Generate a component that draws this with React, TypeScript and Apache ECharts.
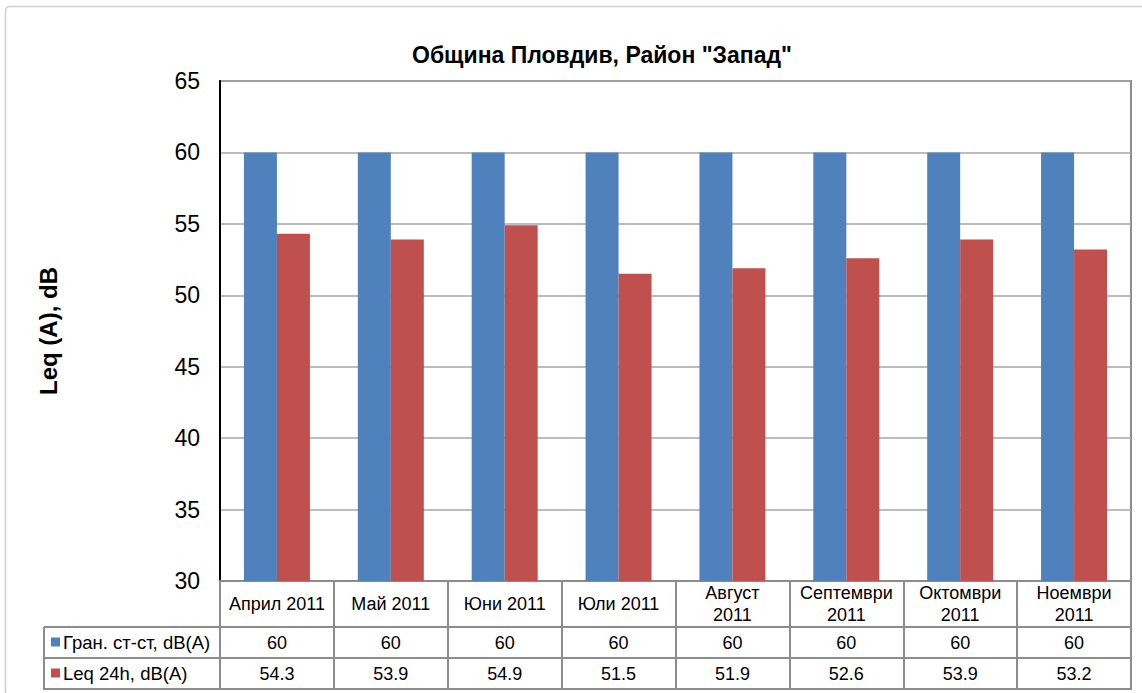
import React, { useEffect, useRef } from "react";
import * as echarts from "echarts";

const categories = ["Април 2011", "Май 2011", "Юни 2011", "Юли 2011", "Август 2011", "Септември 2011", "Октомври 2011", "Ноември 2011"];
const headerLabels = ["Април 2011", "Май 2011", "Юни 2011", "Юли 2011", "Август\n2011", "Септември\n2011", "Октомври\n2011", "Ноември\n2011"];
const limitValues = [60, 60, 60, 60, 60, 60, 60, 60];
const leqValues = [54.3, 53.9, 54.9, 51.5, 51.9, 52.6, 53.9, 53.2];
const seriesNames = ["Гран. ст-ст, dB(A)", "Leq 24h, dB(A)"];
const seriesColors = ["#4F81BD", "#C0504D"];
const yTicks = { min: 30, max: 65, interval: 5 };

const FONT = "'Liberation Sans', Arial, sans-serif";
const LINE = "#8C8C8C";

export default function App() {
  const ref = useRef<HTMLDivElement>(null);
  useEffect(() => {
    if (!ref.current) return;
    const chart = echarts.init(ref.current, undefined, { renderer: "svg" });
    const option: any = {
      animation: false,
      backgroundColor: "#fff",
      title: {
        text: 'Община Пловдив, Район "Запад"',
        left: 597,
        textAlign: "center",
        top: 38,
        textStyle: { fontFamily: FONT, fontSize: 23, fontWeight: "bold", color: "#000" },
      },
      grid: {
        left: 220,
        right: 11,
        top: 81,
        bottom: 112,
        show: true,
        borderColor: LINE,
        borderWidth: 2,
      },
      xAxis: {
        type: "category",
        data: categories,
        axisLine: { lineStyle: { color: LINE, width: 2 } },
        axisTick: { show: true, interval: 0, length: 108, lineStyle: { color: LINE, width: 2 } },
        axisLabel: {
          interval: 0,
          margin: 23,
          verticalAlign: "middle",
          align: "center",
          fontFamily: FONT,
          fontSize: 18,
          lineHeight: 22,
          color: "#000",
          formatter: (_v: string, i: number) => headerLabels[i],
        },
      },
      yAxis: {
        type: "value",
        min: yTicks.min,
        max: yTicks.max,
        interval: yTicks.interval,
        name: "Leq (A), dB",
        nameLocation: "middle",
        nameGap: 160,
        nameRotate: 90,
        nameTextStyle: { fontFamily: FONT, fontSize: 24, fontWeight: "bold", color: "#000" },
        axisLine: { show: true, lineStyle: { color: "#000", width: 2 } },
        axisTick: { show: false },
        axisLabel: { fontFamily: FONT, fontSize: 23, color: "#000", margin: 20 },
        splitLine: { lineStyle: { color: "#A6A6A6", width: 1.5 } },
      },
      series: [
        {
          name: seriesNames[0],
          type: "bar",
          data: limitValues,
          barWidth: 33,
          barGap: "0%",
          itemStyle: { color: seriesColors[0] },
        },
        {
          name: seriesNames[1],
          type: "bar",
          data: leqValues,
          barWidth: 33,
          barGap: "0%",
          itemStyle: { color: seriesColors[1] },
        },
      ],
    };
    chart.setOption(option);

    const y0 = chart.convertToPixel({ yAxisIndex: 0 }, yTicks.min) as number;
    const c0 = chart.convertToPixel({ xAxisIndex: 0 }, 0) as number;
    const c1 = chart.convertToPixel({ xAxisIndex: 0 }, 1) as number;
    const band = c1 - c0;
    const leftEdge = c0 - band / 2;
    const rightEdge = leftEdge + band * categories.length;
    const tableLeft = 44;
    const headerH = 46;
    const rowH = 31;
    const r1 = y0 + headerH;
    const r2 = r1 + rowH;
    const r3 = r2 + rowH;
    const rows = [limitValues, leqValues];

    const graphics: any[] = [
      {
        type: "rect",
        shape: { x: 5.5, y: 6.5, width: 1140, height: 690, r: 4 },
        style: { fill: "none", stroke: "#D0D0D0", lineWidth: 1.5 },
        silent: true,
      },
    ];
    [r1, r2, r3].forEach((y) => {
      graphics.push({
        type: "line",
        shape: { x1: tableLeft, y1: y, x2: rightEdge + 1, y2: y },
        style: { stroke: LINE, lineWidth: 2 },
      });
    });
    graphics.push({
      type: "line",
      shape: { x1: tableLeft, y1: r1, x2: tableLeft, y2: r3 + 1 },
      style: { stroke: LINE, lineWidth: 2 },
    });
    rows.forEach((vals, ri) => {
      const cy = r1 + rowH * ri + rowH / 2;
      graphics.push({
        type: "rect",
        shape: { x: 51, y: cy - 5, width: 9, height: 9 },
        style: { fill: seriesColors[ri] },
      });
      graphics.push({
        type: "text",
        x: 63,
        y: cy,
        style: {
          text: seriesNames[ri],
          fontFamily: FONT,
          fontSize: 18.5,
          fill: "#000",
          verticalAlign: "middle",
          align: "left",
        },
      });
      vals.forEach((v, ci) => {
        const cx = chart.convertToPixel({ xAxisIndex: 0 }, ci) as number;
        graphics.push({
          type: "text",
          x: cx,
          y: cy,
          style: {
            text: String(v),
            fontFamily: FONT,
            fontSize: 18,
            fill: "#000",
            verticalAlign: "middle",
            align: "center",
          },
        });
      });
    });
    chart.setOption({ graphic: graphics });

    return () => chart.dispose();
  }, []);

  return (
    <div
      ref={ref}
      style={{ position: "fixed", left: 0, top: 0, width: 1142, height: 693 }}
    />
  );
}
